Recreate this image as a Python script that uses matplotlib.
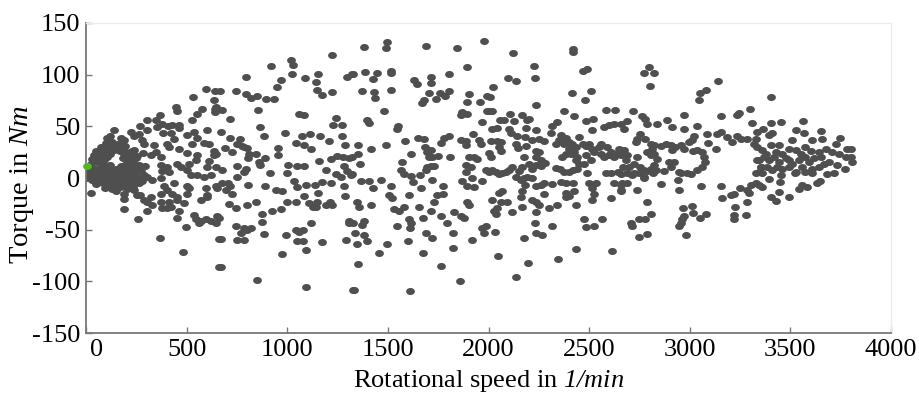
import numpy as np
import matplotlib
matplotlib.use("Agg")
import matplotlib.pyplot as plt
from matplotlib.transforms import ScaledTranslation

plt.rcParams['font.family'] = ['Liberation Serif', 'DejaVu Serif']
plt.rcParams['axes.unicode_minus'] = False
# only the unit parts of the axis labels are math text, and they are italic
plt.rcParams['mathtext.fontset'] = 'custom'
plt.rcParams['mathtext.rm'] = 'Liberation Serif:italic'
plt.rcParams['mathtext.it'] = 'Liberation Serif:italic'

# operating points: (speed in 1/min, torque in Nm)
start_point = (3, 12)

# dense blob at low speed (small hole around 135-170 1/min, 14-22 Nm)
points_0_300 = [
    (0, 0), (26, -14.7), (92, -10), (128, -11), (171, -9), (203, -11), (232, -9),
    (48, -6), (82, -5), (111, -7), (142, -6), (166, -5), (197, -7), (224, -6), (262, -5),
    (28, -2), (57, -1), (86, -3), (116, -2), (147, -1), (174, -3), (206, -2), (241, -1), (276, -3),
    (14, 2), (41, 3), (69, 1), (102, 2), (131, 3), (158, 1), (191, 3), (221, 2), (252, 1), (286, 3),
    (9, 6), (36, 7), (61, 5), (91, 6), (119, 7), (152, 5), (181, 7), (209, 6), (239, 5), (271, 7),
    (21, 10), (46, 9), (74, 11), (99, 10), (196, 9), (226, 11), (256, 10), (148, 9),
    (26, 14), (54, 15), (84, 13), (201, 14), (232, 15), (264, 13), (118, 13), (176, 12),
    (31, 18), (61, 19), (89, 17), (104, 20), (211, 18), (246, 19), (182, 19), (121, 23),
    (39, 22), (70, 23), (98, 21), (189, 23), (219, 22), (254, 21),
    (52, 26), (81, 27), (111, 25), (139, 27), (168, 26), (199, 25), (236, 27),
    (74, 30), (106, 31), (133, 29), (164, 30), (194, 31),
    (98, 34), (128, 35), (160, 33), (184, 36),
    (102, 39), (172, 39), (188, 37), (222, 44.5), (238, 41), (263, 43), (268, 50), (230, 26),
    (102, -8), (147, -13), (188, -15), (188, -20), (238, -11.5), (251, -16), (268, -16),
    (288, -21), (188, -30), (258, -40), (295, 12), (282, 24), (140, 46), (120, 41),
]

points_300_650 = [
    (596, 85.9), (641, 84), (533, 78), (636, 75.6), (445, 69), (453, 65), (578, 66.7),
    (553, 62), (641, 67), (641, 64), (367, 60.6), (346, 56), (304, 56), (528, 56), (379, 52),
    (407, 50), (429, 51), (462, 51), (463, 48), (351, 49), (304, 46), (503, 42), (536, 44.5),
    (550, 39), (603, 46), (384, 44), (420, 43.6), (280, 36.5), (288, 33), (437, 37.5),
    (528, 33), (586, 34), (611, 33), (337, 32), (404, 33), (412, 30), (462, 27.6), (503, 24),
    (636, 26), (636, 22), (321, 22), (346, 25), (371, 20.5), (553, 22), (545, 17), (611, 16),
    (599, 11), (453, 14), (470, 11), (404, 11), (412, 6), (512, 14), (503, 8), (371, 12.5),
    (379, 7), (553, 3), (520, 3), (586, 1), (619, 3), (644, 11), (304, 1.3), (329, -2),
    (437, -5), (371, 0), (387, -8), (503, -8), (644, -8), (594, -10), (603, -16), (321, -18),
    (304, -23), (329, -26), (304, -32), (371, -15), (404, -11.5), (429, -15), (371, -23),
    (379, -29), (404, -29), (420, -27.6), (412, -23), (453, -18), (453, -21), (462, -32),
    (487, -24), (503, -15), (512, -10), (570, -21), (603, -18), (450, -39), (495, -47),
    (536, -36), (545, -40), (570, -42), (561, -44), (594, -40), (619, -42), (652, -37),
    (367, -58), (483, -72), (661, -59), (661, -86),
]

points_650_1320 = [
    (1221, 119), (1017, 114), (1030, 109), (1022, 100.6), (921, 108), (793, 98), (967, 95),
    (950, 88), (1088, 97), (1154, 101), (1141, 92.6), (1149, 85.6), (1171, 80), (1221, 83.6),
    (1295, 98), (1323, 100.6), (664, 84.6), (743, 84.6), (793, 81), (818, 77.6), (851, 79.5),
    (896, 76), (934, 76), (644, 69), (677, 66), (652, 67), (856, 66), (714, 56.7), (1058, 62),
    (1083, 60.6), (1244, 58), (1227, 51), (1270, 51.6), (863, 49), (669, 44.5), (989, 43.6),
    (884, 40.7), (1071, 40.7), (1113, 43), (1161, 41), (1270, 40.7), (714, 39), (763, 37.5),
    (752, 32.7), (777, 30.8), (801, 29.5), (785, 30), (1207, 36), (1042, 34), (1083, 31.7),
    (1116, 28.5), (1285, 31.7), (955, 29), (955, 22.4), (690, 29), (727, 24.7), (810, 22.8),
    (805, 19), (846, 23.7), (889, 19), (859, 15.7), (863, 13), (647, 22.8), (1249, 21.5),
    (1277, 20), (1307, 19), (1282, 12), (1298, 7), (1158, 16.7), (1005, 13), (1048, 12),
    (1083, 12), (1216, 18), (677, 8), (752, 11.5), (793, 9), (785, 6), (1194, 7.7), (914, 5),
    (1000, 4.5), (750, 1.3), (1240, 3.5), (1265, 1.3), (1320, 3.8), (1035, -3), (1174, -3.5),
    (1216, -5), (677, -5), (707, -4.5), (714, -8), (694, -11.5), (724, -15.4), (652, -10),
    (806, -6.7), (889, -8), (942, -11.5), (975, -13), (1050, -9), (1095, -6.4), (1138, -6.7),
    (1154, -14.7), (1081, -17), (1282, -7.7), (1287, -17), (710, -25), (747, -29),
    (801, -26.6), (843, -23.7), (997, -23.7), (1042, -22.8), (1108, -24), (1128, -28),
    (1141, -27.6), (1149, -22.8), (1191, -26.6), (1211, -22.8), (1221, -26), (922, -32),
    (967, -30), (873, -35), (661, -38.8), (876, -42.6), (644, -43.6), (743, -46.8),
    (785, -48), (801, -50), (818, -48), (768, -53), (884, -54), (752, -59.6), (785, -59.6),
    (669, -58.6), (995, -55), (1042, -50), (1058, -52.6), (1078, -50), (1050, -61),
    (1078, -61), (1116, -44), (1095, -70), (975, -74), (1171, -62), (1307, -42), (1307, -44),
    (1290, -59.6), (669, -86), (851, -98.7), (1095, -105), (1327, -108),
]

points_1320_1990 = [
    (1381, 127), (1497, 131.7), (1492, 126), (1688, 127.6), (1842, 126), (1978, 132.7),
    (1895, 107), (1328, 100.6), (1386, 103), (1426, 96), (1448, 101.6), (1514, 104),
    (1514, 102), (1630, 95), (1646, 91), (1713, 98), (1713, 92), (1804, 100.6), (1373, 84.6),
    (1431, 83), (1434, 77), (1517, 85), (1671, 73), (1680, 75), (1704, 82), (1738, 76),
    (1759, 82.7), (1782, 79), (1804, 84.6), (1481, 64.7), (1903, 80.8), (1892, 74),
    (1958, 74), (1994, 79), (1870, 64), (1862, 60.6), (1895, 61.5), (1970, 54), (1994, 64.7),
    (1395, 55.8), (1406, 53), (1552, 50), (1547, 47.4), (1583, 35.6), (1650, 39), (1680, 37.5),
    (1779, 39), (1804, 41), (1762, 34), (1862, 37), (1887, 36), (1887, 31.7), (1925, 43),
    (1953, 36.5), (1961, 32.7), (1351, 31.7), (1351, 23), (1361, 14), (1414, 27.6),
    (1489, 31.7), (1323, 20), (1683, 30), (1696, 25), (1713, 27), (1704, 20.5), (1721, 20),
    (1696, 11), (1688, 8), (1713, 11.5), (1729, 12), (1749, 21), (1613, 23), (1572, 15.7),
    (1564, 8), (1580, 3.8), (1613, 2), (1627, -3.5), (1660, 3), (1666, -10), (1721, -2),
    (1807, 20), (1903, 20.5), (1928, 20), (1945, 18), (1887, 12.5), (1911, 11), (1887, 6),
    (1916, -0.3), (1970, -2.6), (1870, -2.6), (1895, -8), (1928, -9), (1315, 3), (1365, -2.6),
    (1406, -2.6), (1464, -2), (1428, -10), (1517, -7.4), (1506, -16), (1522, -19.6),
    (1605, -16.7), (1746, -16.4), (1776, -15.4), (1729, -23.7), (1776, -7.4), (1348, -22.8),
    (1356, -27.6), (1414, -26), (1530, -30), (1555, -32.4), (1580, -27.6), (1655, -27.6),
    (1713, -31.7), (1829, -33), (1862, -37), (1878, -38.8), (1895, -22.8), (1903, -26),
    (1762, -37), (1605, -39.4), (1613, -43.6), (1610, -48.4), (1676, -38.8), (1795, -44),
    (1328, -43.6), (1381, -42), (1373, -45), (1547, -46.8), (1688, -53), (1721, -58),
    (1825, -53), (1970, -48.4), (1978, -53), (1920, -59.6), (1335, -53), (1381, -54.8),
    (1398, -61), (1345, -63.8), (1497, -63.5), (1600, -61), (1456, -73), (1676, -73),
    (1825, -67.6), (1351, -83), (1766, -85), (1858, -99.7), (1332, -108), (1610, -109),
]

points_1990_2660 = [
    (2124, 121), (2420, 124.7), (2420, 121.5), (2226, 108), (2099, 96.8), (2135, 94),
    (2231, 96.5), (2467, 103.8), (2491, 105), (2022, 88.5), (2006, 78.8), (2413, 82),
    (2508, 84), (2480, 75), (2238, 71), (2375, 65), (2425, 59.6), (2583, 66), (2629, 66),
    (2003, 64.7), (2019, 64.4), (2105, 62), (2165, 60.6), (2056, 55.8), (2077, 55.8),
    (2127, 55), (2193, 55.8), (2201, 57), (2483, 55), (2520, 56.7), (2016, 47.8), (2044, 48.7),
    (2102, 47.8), (2185, 48.7), (2234, 46.8), (2317, 50), (2342, 54), (2513, 46.8),
    (2574, 49.4), (2599, 51), (2624, 52.6), (2657, 52.6), (2110, 43.6), (2143, 41),
    (2181, 39.7), (2218, 37), (2251, 38), (2276, 36), (2309, 43.6), (2359, 42), (2384, 39),
    (2351, 36.5), (2334, 32.7), (2375, 33), (2400, 35), (2413, 32.7), (2433, 30), (2450, 39.7),
    (2467, 32.7), (2483, 30.8), (2500, 32.7), (2516, 28.5), (2525, 25), (2549, 30),
    (2558, 32.7), (2591, 30), (2607, 25), (2632, 23.7), (2657, 22), (2649, 28.5), (2044, 36),
    (2061, 35), (2011, 35.6), (2135, 33), (2148, 29.5), (2185, 30.8), (2234, 26), (2251, 25),
    (2234, 20.5), (2259, 17), (2281, 14.7), (2259, 11.5), (2234, 12.5), (2218, 9), (2334, 10),
    (2354, 9), (2375, 6), (2400, 6), (2420, 7.7), (2442, 9), (2433, 17), (2408, 23.7),
    (2400, 28.5), (2384, 23.7), (2367, 20.5), (2425, 25), (2442, 20.5), (2450, 13.5),
    (2176, 20), (2201, 14), (2168, 11), (2152, 7), (2119, 11), (2102, 7.7), (2085, 5.5),
    (2069, 4.5), (2052, 3.8), (2036, 6), (2019, 7.7), (2003, 6), (1986, 7.7), (2052, 30),
    (2061, 26), (2003, 24.4), (2011, 20.5), (2483, 22), (2508, 17), (2475, 14), (2583, 5),
    (2607, 4.5), (2641, 6), (2657, 3.8), (2558, 23.7), (2574, 20), (2599, 22), (2624, 20.5),
    (2135, 1.3), (2160, -2), (2176, -0.3), (2193, 1.3), (2218, -0.3), (2181, -6.7),
    (2168, -13), (2234, -7.4), (2259, -6.7), (2276, -5), (2317, -5.8), (2359, -3.5),
    (2384, -4.5), (2420, -4.5), (2276, -15.4), (2384, -14.7), (2400, -17), (2425, -13),
    (2384, -18), (2491, 5), (2500, -4.5), (2533, -4.5), (2513, -10), (2525, -15.4),
    (2624, -4.5), (2657, -6.7), (2657, -12.5), (2607, -19.6), (2513, -21), (2433, -26.6),
    (2069, -12.5), (2052, -14.7), (2061, -23.7), (2094, -23.7), (2119, -33), (2044, -29),
    (2036, -34.6), (2027, -32.4), (2019, -21), (2160, -18), (2168, -27.6), (2218, -21),
    (2234, -23.7), (2251, -26), (2301, -29), (2342, -26), (2234, -33), (1989, -46.8),
    (2032, -52.6), (2231, -43.6), (2234, -53), (2264, -54.8), (2314, -46.8), (2475, -40),
    (2483, -47.4), (2525, -46), (2566, -40), (2176, -58), (2049, -75.6), (2196, -82),
    (2347, -78.8), (2433, -68.6), (2612, -70.8), (2138, -95.5),
]

points_2660_3330 = [
    (2797, 107), (2775, 102), (2822, 102), (2802, 89), (3141, 93.6), (3083, 85.6), (3050, 82),
    (3045, 75), (2717, 65), (2764, 60), (2780, 57), (2971, 61), (3153, 59.6), (3244, 62.8),
    (3236, 60.6), (3297, 67), (2686, 54.8), (2673, 47.8), (2789, 52), (2835, 52), (2888, 55.8),
    (2913, 49.4), (2971, 47.8), (3034, 50), (3310, 53), (2755, 43), (2739, 38), (2731, 35),
    (2780, 38), (2805, 32.7), (2822, 31.7), (2813, 28.5), (2855, 30.8), (2880, 33),
    (2905, 31.7), (2913, 27), (2929, 30), (2954, 31.7), (2971, 28.5), (2996, 35), (3012, 36.5),
    (3021, 41), (3017, 26), (3087, 43), (3136, 43), (3153, 44.5), (3128, 28.5), (3090, 34),
    (3186, 39.7), (3211, 35), (3236, 41), (3253, 38), (3286, 37.5), (3319, 33), (3335, 30),
    (3037, 27), (3062, 25), (3070, 20.5), (3078, 15.7), (3062, 11), (3037, 7.7), (3004, 3.8),
    (2987, 5), (2673, 27), (2689, 22), (2681, 17), (2669, 11), (2697, 11), (2722, 14),
    (2739, 20), (2755, 11), (2772, 7.7), (2789, 7), (2805, 9), (2822, 12.5), (2830, 7.7),
    (2838, 18), (2805, 22), (2789, 25), (2822, 23), (2689, 4.5), (2722, 5), (2747, 5),
    (2714, 3), (2772, 1.3), (2818, 4.5), (2871, 7), (2905, 11), (2921, 15.7), (2896, 15.7),
    (2946, 6), (2954, 4.5), (3335, 17), (3352, 11), (3344, 6), (2656, -11.5), (2664, -5),
    (2689, -5), (2739, -12), (2772, -0.3), (2855, -6), (2941, -2), (2946, -12), (3058, -8),
    (3153, -8), (3161, -19.6), (3203, -16.4), (3219, -15.4), (3249, -10), (3286, -12),
    (3306, -6.7), (3327, -5), (3294, -14.7), (2789, -23.7), (2968, -29), (3012, -27),
    (3017, -34), (3050, -38.8), (3083, -34.6), (3223, -27.6), (3219, -35.6), (3219, -39.4),
    (3277, -35.6), (3282, -23.7), (2805, -34.6), (2780, -40), (2747, -39.7), (2706, -43.6),
    (2714, -46), (2954, -43.6), (2963, -40), (2971, -37), (2946, -46.8), (2979, -54.8),
    (2789, -53.8), (2747, -57),
]

points_3330_3800 = [
    (3402, 78.8), (3562, 55), (3451, 54), (3402, 53), (3363, 47.8), (3410, 43.6), (3393, 42),
    (3526, 46), (3567, 43.6), (3650, 45), (3745, 38.5), (3335, 44.5), (3327, 38), (3509, 36.5),
    (3609, 37), (3658, 37.5), (3725, 32.7), (3783, 27.6), (3799, 27.6), (3402, 31.7),
    (3443, 31.7), (3493, 28.5), (3575, 30), (3360, 27), (3377, 23.7), (3426, 25.3),
    (3460, 23.7), (3526, 27), (3551, 23.7), (3600, 26), (3642, 25.3), (3675, 28.5),
    (3708, 25.3), (3741, 23.7), (3774, 20.5), (3799, 20.5), (3804, 15.7), (3771, 8.3),
    (3733, 12.5), (3716, 5), (3683, 3.8), (3344, 17), (3368, 20.5), (3393, 17), (3418, 20.5),
    (3443, 15.7), (3476, 19), (3493, 17), (3509, 14), (3542, 17), (3575, 20.5), (3592, 15.7),
    (3617, 19), (3650, 20.5), (3667, 14), (3691, 15.7), (3352, 11), (3385, 11), (3410, 7.7),
    (3435, 11), (3460, 9), (3493, 11), (3526, 6), (3559, 11), (3575, 6), (3609, 9), (3642, 11),
    (3327, 4.5), (3360, 4.5), (3393, -1.3), (3451, 3), (3522, 4.5), (3609, 4.5), (3344, -6.7),
    (3360, -8.3), (3446, -3.5), (3559, -6.7), (3584, -8.3), (3542, -11), (3634, -4.5),
    (3645, -2.6), (3402, -18), (3430, -21.8), (3443, -14), (3493, -18),
]

x_ticks = [0, 500, 1000, 1500, 2000, 2500, 3000, 3500, 4000]
y_ticks = [-150, -100, -50, 0, 50, 100, 150]

all_points = np.array(points_0_300 + points_300_650 + points_650_1320 + points_1320_1990
                      + points_1990_2660 + points_2660_3330 + points_3330_3800)

# the dots are slightly wider than tall
t = np.linspace(0, 2 * np.pi, 40)
ellipse = list(zip(np.cos(t), 0.8 * np.sin(t)))

fig = plt.figure(figsize=(9.2, 3.96), dpi=100)
ax = fig.add_axes([0.0935, 0.159, 0.875, 0.783])

ax.scatter(all_points[:, 0], all_points[:, 1], s=40, marker=ellipse, color='#4f4f4f',
           linewidths=0, zorder=2)
ax.scatter([start_point[0]], [start_point[1]], s=40, marker=ellipse, color='#55b522',
           linewidths=0, zorder=3, clip_on=False)

ax.set_xlim(0, 4000)
ax.set_ylim(-150, 150)
ax.set_xticks(x_ticks)
ax.set_yticks(y_ticks)
ax.tick_params(direction='in', length=4, width=1, color='#777777', labelsize=19, pad=4)

for side in ['left', 'bottom']:
    ax.spines[side].set_color('#777777')
    ax.spines[side].set_linewidth(1.3)
for side in ['top', 'right']:
    ax.spines[side].set_color('#ececec')
    ax.spines[side].set_linewidth(1.0)

# the "0" under the axis corner sits a little to the right in the original
lbl0 = ax.get_xticklabels()[0]
lbl0.set_transform(lbl0.get_transform() + ScaledTranslation(0.11, 0, fig.dpi_scale_trans))

ax.set_xlabel('Rotational speed in $1/min$', fontsize=19)
ax.set_ylabel('Torque in $Nm$', fontsize=20.5)
ax.xaxis.set_label_coords(0.5, -0.112)
ax.yaxis.set_label_coords(-0.062, 0.48)

fig.savefig('out.png', dpi=100)
